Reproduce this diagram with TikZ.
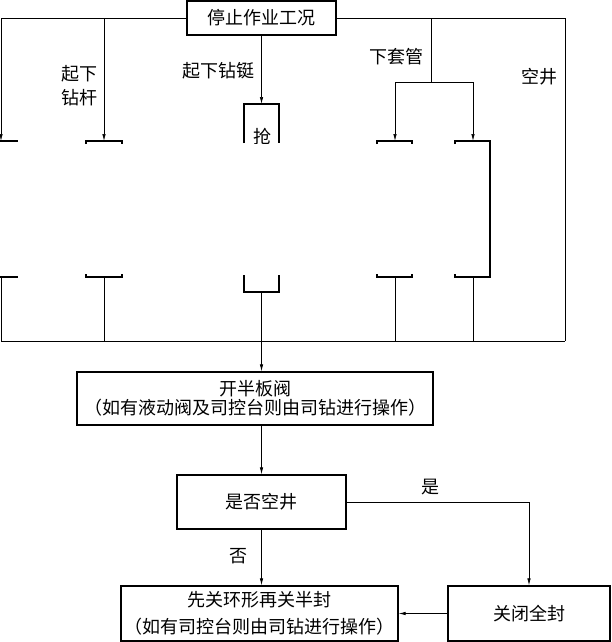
\documentclass[tikz,border=0pt]{standalone}
\usepackage{fontspec}
\setmainfont{Noto Sans CJK SC}
\usetikzlibrary{arrows.meta}
\begin{document}
\begin{tikzpicture}[x=1pt,y=-1pt,
    box/.style={draw,line width=1.3pt,inner sep=0pt,align=center,font=\fontsize{18}{19}\selectfont},
    lab/.style={align=center,font=\fontsize{18}{24}\selectfont},
    ln/.style={line width=0.7pt},
    arr/.style={line width=0.7pt,-{Latex[length=7pt,width=3.5pt]}},
    frag/.style={line width=1.8pt}]
    \useasboundingbox (0,0) rectangle (611,642);

    \node[box,minimum width=149pt,minimum height=34pt] (stop) at (261.5,18) {停止作业工况};
    \node[box,minimum width=356pt,minimum height=53pt] (open) at (255,398.5) {开半板阀\\（如有液动阀及司控台则由司钻进行操作）};
    \node[box,minimum width=169pt,minimum height=54pt] (judge) at (261.5,502) {是否空井};
    \node[box,minimum width=277pt,minimum height=55pt] (xian) at (259.5,613.5) {先关环形再关半封\\[8pt]（如有司控台则由司钻进行操作）};
    \node[box,minimum width=162pt,minimum height=55pt] (close) at (529,613.5) {关闭全封};

    \node[lab] (l1) at (79,86) {起下\\钻杆};
    \node[lab] (l2) at (218.5,71) {起下钻铤};
    \node[lab] (l4) at (396.5,57) {下套管};
    \node[lab] (l6) at (539.5,77) {空井};
    \node[lab] (yes) at (430,487) {是};
    \node[lab] (no) at (238,556) {否};

    \coordinate (t1) at (1,141);
    \coordinate (t2) at (104,141);
    \coordinate (t3) at (261.5,104);
    \coordinate (j4) at (431,82);
    \coordinate (t4) at (395,141);
    \coordinate (t5) at (473,141);
    \coordinate (b1) at (1,277);
    \coordinate (b2) at (104,277);
    \coordinate (b3) at (261.5,292);
    \coordinate (b4) at (395,277);
    \coordinate (b5) at (473,277);
    \coordinate (m1) at (1,341);
    \coordinate (m6) at (565,341);

    % upper branches
    \draw[arr] (stop.west) -| (t1);
    \draw[arr] (stop.west) -| (t2);
    \draw[arr] (stop) -- (t3);
    \draw[ln] (stop.east) -| (j4);
    \draw[arr] (j4) -| (t4);
    \draw[arr] (j4) -| (t5);
    \draw[ln] (stop.east) -| (m6);

    % cut boxes
    \draw[frag] (0,141) -- (18,141);
    \draw[frag] (0,277) -- (18,277);
    \draw[frag] (86,144) -- (86,141) -- (122,141) -- (122,144);
    \draw[frag] (86,274) -- (86,277) -- (122,277) -- (122,274);
    \draw[frag] (244,143) -- (244,104) -- (279,104) -- (279,143);
    \draw[frag] (244,275) -- (244,292) -- (279,292) -- (279,275);
    \draw[frag] (377,144) -- (377,141) -- (412,141) -- (412,144);
    \draw[frag] (377,274) -- (377,277) -- (412,277) -- (412,274);
    \draw[frag] (455,144) -- (455,141) -- (490,141) -- (490,277) -- (455,277) -- (455,274);
    \begin{scope}
        \clip (240,100) rectangle (285,143);
        \node[lab] (q) at (262,137) {抢};
    \end{scope}

    % lower branches
    \draw[ln] (b1) -- (m1) -- (m6);
    \draw[ln] (b2) -- (b2 |- m1);
    \draw[ln] (b4) -- (b4 |- m1);
    \draw[ln] (b5) -- (b5 |- m1);
    \draw[arr] (b3) -- (b3 |- open.north);
    \draw[arr] (b3 |- open.south) -- (judge);
    \draw[arr] (judge) -- (judge |- xian.north);
    \draw[arr] (judge) -| (close);
    \draw[arr] (close) -- (xian);
\end{tikzpicture}
\end{document}
